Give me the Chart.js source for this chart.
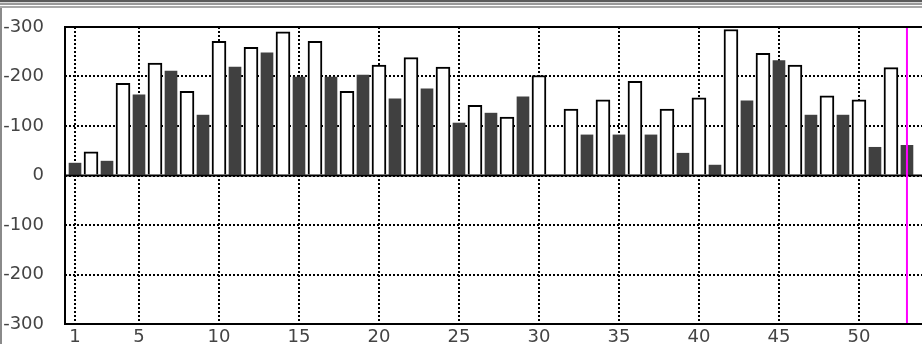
<!DOCTYPE html>
<html>
<head>
<meta charset="utf-8">
<script src="https://cdn.jsdelivr.net/npm/chart.js@4.4.1/dist/chart.umd.min.js"></script>
<style>
  html, body { margin: 0; padding: 0; background: #fff; overflow: hidden; }
  #wrap { position: relative; width: 922px; height: 344px; }
  #topbar { position: absolute; left: 0; top: 0; width: 922px; height: 8px;
    background: linear-gradient(to bottom, #5a5a5a 0px, #5a5a5a 2px, #d8d8d8 2px, #d8d8d8 3px, #9a9a9a 3px, #9a9a9a 5px, #ffffff 5px, #ffffff 6px, #a8a8a8 6px, #a8a8a8 8px); }
  #leftbar { position: absolute; left: 0; top: 8px; width: 2px; height: 336px; background: #8a8a8a; }
  canvas { position: absolute; left: 0; top: 0; }
</style>
</head>
<body>
<div id="wrap">
  <canvas id="c" width="922" height="344"></canvas>
  <div id="topbar"></div>
  <div id="leftbar"></div>
</div>
<script>
// ---- data ----
const darkCategories  = [1, 3, 5, 7, 9, 11, 13, 15, 17, 19, 21, 23, 25, 27, 29, 31, 33, 35, 37, 39, 41, 43, 45, 47, 49, 51, 53];
const darkValues      = [25, 29, 163, 211, 122, 219, 248, 199, 199, 203, 155, 175, 106, 126, 159, null, 82, 82, 82, 45, 21, 151, 232, 122, 122, 57, 61];
const whiteCategories = [2, 4, 6, 8, 10, 12, 14, 16, 18, 20, 22, 24, 26, 28, 30, 32, 34, 36, 38, 40, 42, 44, 46, 48, 50, 52];
const whiteValues     = [48, 186, 227, 170, 271, 259, 290, 271, 170, 223, 238, 219, 142, 118, 202, 134, 153, 190, 134, 157, 295, 247, 223, 161, 153, 218];
const xTickValues     = [1, 5, 10, 15, 20, 25, 30, 35, 40, 45, 50];
const yTickValues     = [-300, -200, -100, 0, 100, 200, 300];
const markerCategory  = 53;

const toPoints = (xs, ys) => xs.map((x, i) => ({ x: x, y: ys[i] }));

const framePlugin = {
  id: 'frame',
  afterDatasetsDraw(chart) {
    const { ctx, chartArea: a, scales } = chart;
    ctx.save();
    // zero line
    const y0 = scales.y.getPixelForValue(0);
    ctx.strokeStyle = '#000';
    ctx.lineWidth = 2;
    ctx.beginPath();
    ctx.moveTo(a.left, y0); ctx.lineTo(a.right, y0);
    ctx.stroke();
    // marker line
    const mx = scales.x.getPixelForValue(markerCategory);
    ctx.strokeStyle = '#ff00ff';
    ctx.lineWidth = 2;
    ctx.beginPath();
    ctx.moveTo(mx, a.top); ctx.lineTo(mx, a.bottom);
    ctx.stroke();
    // frame (top, left, bottom)
    ctx.strokeStyle = '#000';
    ctx.lineWidth = 2;
    ctx.beginPath();
    ctx.moveTo(a.right + 2, a.top); ctx.lineTo(a.left, a.top);
    ctx.lineTo(a.left, a.bottom); ctx.lineTo(a.right + 2, a.bottom);
    ctx.stroke();
    ctx.restore();
  }
};

new Chart(document.getElementById('c'), {
  type: 'bar',
  data: {
    datasets: [
      {
        label: 'dark',
        data: toPoints(darkCategories, darkValues),
        backgroundColor: '#404040',
        borderWidth: 0,
        barThickness: 12,
        grouped: false
      },
      {
        label: 'white',
        data: toPoints(whiteCategories, whiteValues),
        backgroundColor: '#ffffff',
        borderColor: '#000000',
        borderWidth: 2,
        barThickness: 14,
        grouped: false
      }
    ]
  },
  plugins: [framePlugin],
  options: {
    responsive: false,
    animation: false,
    events: [],
    layout: { autoPadding: false, padding: { top: 27, right: 0, bottom: 0, left: 0 } },
    plugins: { legend: { display: false }, tooltip: { enabled: false } },
    scales: {
      x: {
        type: 'linear',
        offset: false,
        min: 0.375,
        max: 53.94,
        afterBuildTicks(scale) { scale.ticks = xTickValues.map(v => ({ value: v })); },
        afterFit(scale) { scale.height = 20; },
        grid: { offset: false, color: '#000', lineWidth: 2, drawTicks: true, tickLength: 3, tickColor: 'rgba(0,0,0,0)' },
        border: { display: false, dash: [2, 2] },
        ticks: {
          autoSkip: false,
          maxRotation: 0,
          padding: 0,
          color: '#444',
          font: { family: 'DejaVu Sans', size: 18 },
          callback: v => String(v)
        }
      },
      y: {
        min: -300,
        max: 300,
        afterBuildTicks(scale) { scale.ticks = yTickValues.map(v => ({ value: v })); },
        afterFit(scale) { scale.width = 65; },
        grid: { color: '#000', lineWidth: 2, drawTicks: true, tickLength: 21, tickColor: 'rgba(0,0,0,0)' },
        border: { display: false, dash: [2, 2] },
        ticks: {
          padding: 0,
          color: '#444',
          font: { family: 'DejaVu Sans', size: 18 },
          callback: v => (v === 0 ? '0' : '-' + Math.abs(v))
        }
      }
    }
  }
});
</script>
</body>
</html>
